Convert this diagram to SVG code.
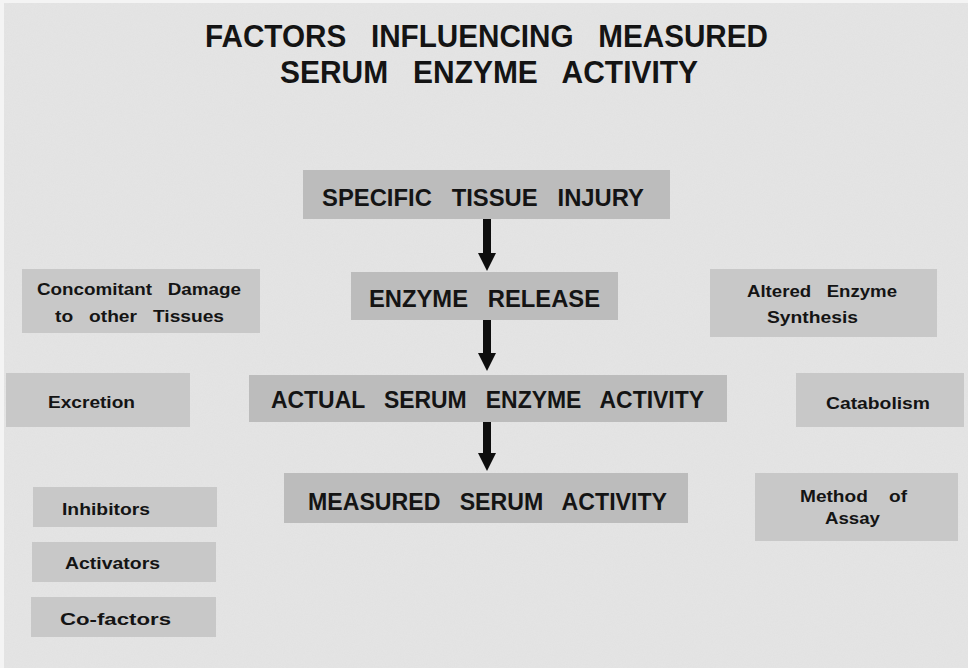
<svg xmlns="http://www.w3.org/2000/svg" width="968" height="668" viewBox="0 0 968 668">
  <style>
    text { font-family: "Liberation Sans", Arial, sans-serif; font-weight: bold; fill: #141414; white-space: pre; }
    .title { font-size: 31px; }
    .main { font-size: 23px; }
    .side { font-size: 17px; }
    .mbox { fill: #bcbcbc; }
    .sbox { fill: #c8c8c8; }
    .conn { stroke: #0d0d0d; stroke-width: 8; fill: none; marker-end: url(#ah); }
  </style>
  <defs>
    <marker id="ah" markerUnits="userSpaceOnUse" viewBox="0 0 18 18" markerWidth="18" markerHeight="18" refX="0" refY="9" orient="auto">
      <path d="M0,0 L18,9 L0,18 Z" fill="#0d0d0d"/>
    </marker>
    <filter id="grain" x="0" y="0" width="100%" height="100%">
      <feTurbulence type="fractalNoise" baseFrequency="0.9" numOctaves="2" seed="3" result="n"/>
      <feColorMatrix type="matrix" values="0 0 0 0 0.5  0 0 0 0 0.5  0 0 0 0 0.5  0 0 0 0.35 0"/>
    </filter>
  </defs>

  <rect x="0" y="0" width="968" height="668" fill="#f4f4f4"/>
  <rect x="4" y="3" width="964" height="665" fill="#e5e5e5"/>
  <rect x="4" y="3" width="964" height="665" filter="url(#grain)" opacity="0.25"/>

  <g id="title">
    <text class="title" x="205" y="47" textLength="563" lengthAdjust="spacingAndGlyphs">FACTORS   INFLUENCING   MEASURED</text>
    <text class="title" x="280" y="83" textLength="418" lengthAdjust="spacingAndGlyphs">SERUM   ENZYME   ACTIVITY</text>
  </g>

  <g id="specific-tissue-injury">
    <rect class="mbox" x="303" y="170" width="367" height="49"/>
    <text class="main" x="322" y="206" textLength="322" lengthAdjust="spacingAndGlyphs">SPECIFIC   TISSUE   INJURY</text>
  </g>
  <g id="enzyme-release">
    <rect class="mbox" x="351" y="272" width="267" height="48"/>
    <text class="main" x="369" y="307" textLength="231" lengthAdjust="spacingAndGlyphs">ENZYME   RELEASE</text>
  </g>
  <g id="actual-serum-enzyme-activity">
    <rect class="mbox" x="249" y="375" width="478" height="47"/>
    <text class="main" x="271" y="408" textLength="433" lengthAdjust="spacingAndGlyphs">ACTUAL   SERUM   ENZYME   ACTIVITY</text>
  </g>
  <g id="measured-serum-activity">
    <rect class="mbox" x="284" y="473" width="404" height="50"/>
    <text class="main" x="308" y="510" textLength="359" lengthAdjust="spacingAndGlyphs">MEASURED   SERUM   ACTIVITY</text>
  </g>

  <g id="concomitant-damage">
    <rect class="sbox" x="22" y="269" width="238" height="64"/>
    <text class="side" x="37" y="295" textLength="204" lengthAdjust="spacingAndGlyphs">Concomitant   Damage</text>
    <text class="side" x="55" y="322" textLength="169" lengthAdjust="spacingAndGlyphs">to   other   Tissues</text>
  </g>
  <g id="altered-enzyme-synthesis">
    <rect class="sbox" x="710" y="269" width="227" height="68"/>
    <text class="side" x="747" y="297" textLength="150" lengthAdjust="spacingAndGlyphs">Altered   Enzyme</text>
    <text class="side" x="767" y="323" textLength="91" lengthAdjust="spacingAndGlyphs">Synthesis</text>
  </g>
  <g id="excretion">
    <rect class="sbox" x="6" y="373" width="184" height="54"/>
    <text class="side" x="48" y="408" textLength="87" lengthAdjust="spacingAndGlyphs">Excretion</text>
  </g>
  <g id="catabolism">
    <rect class="sbox" x="796" y="373" width="168" height="54"/>
    <text class="side" x="826" y="409" textLength="104" lengthAdjust="spacingAndGlyphs">Catabolism</text>
  </g>
  <g id="inhibitors">
    <rect class="sbox" x="33" y="487" width="184" height="40"/>
    <text class="side" x="62" y="515" textLength="88" lengthAdjust="spacingAndGlyphs">Inhibitors</text>
  </g>
  <g id="activators">
    <rect class="sbox" x="32" y="542" width="184" height="40"/>
    <text class="side" x="65" y="569" textLength="95" lengthAdjust="spacingAndGlyphs">Activators</text>
  </g>
  <g id="co-factors">
    <rect class="sbox" x="31" y="597" width="185" height="40"/>
    <text class="side" x="60" y="625" textLength="111" lengthAdjust="spacingAndGlyphs">Co-factors</text>
  </g>
  <g id="method-of-assay">
    <rect class="sbox" x="755" y="473" width="203" height="68"/>
    <text class="side" x="800" y="502" textLength="107" lengthAdjust="spacingAndGlyphs">Method    of</text>
    <text class="side" x="825" y="524" textLength="55" lengthAdjust="spacingAndGlyphs">Assay</text>
  </g>

  <g id="connectors">
    <line class="conn" x1="487" y1="219" x2="487" y2="253"/>
    <line class="conn" x1="487" y1="320" x2="487" y2="353"/>
    <line class="conn" x1="487" y1="422" x2="487" y2="453"/>
  </g>
</svg>
